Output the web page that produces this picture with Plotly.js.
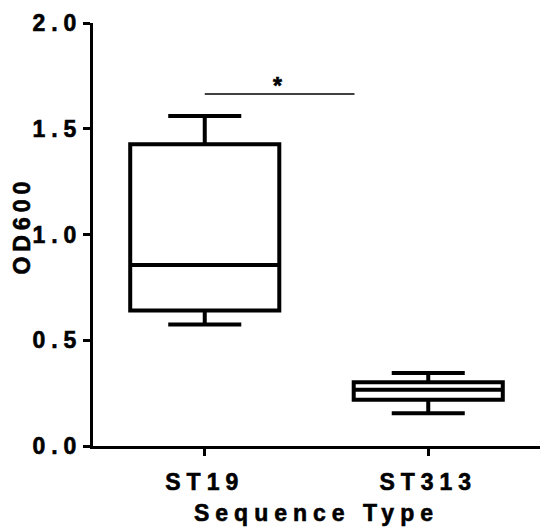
<!DOCTYPE html>
<html>
<head>
<meta charset="utf-8">
<script src="https://cdn.plot.ly/plotly-3.0.1.min.js"></script>
<style>
html,body{margin:0;padding:0;background:#fff;}
#chart{width:540px;height:527px;}
.main-svg text { font-weight: bold !important; stroke: #000; stroke-width: 0.6px; }
.xtick text, .ytick text, .g-xtitle text { letter-spacing: 6px; }
.annotation-text.ytitle-ann { letter-spacing: 5px; }
</style>
</head>
<body>
<div id="chart"></div>
<script>
// Data (OD600 box plot, min-to-max whiskers)
var categories = ['ST19', 'ST313'];
var lowerWhisker = [0.575, 0.155];
var q1Values     = [0.641, 0.219];
var medianValues = [0.856, 0.266];
var q3Values     = [1.427, 0.302];
var upperWhisker = [1.560, 0.345];

// Significance bracket between the groups (x in category index units)
var sigBracketX = [0, 0.67];
var sigBracketY = [1.664, 1.664];
var sigLabel = '*';

var yTickVals = [0, 0.5, 1.0, 1.5, 2.0];
var yTitle = 'OD600';
var xTitle = 'Sequence Type';

var fontFam = 'Liberation Sans, Arial, Helvetica, sans-serif';
var xRange = [-0.5, 1.5];

var traces = [
  {
    type: 'box',
    x: categories,
    q1: q1Values,
    median: medianValues,
    q3: q3Values,
    lowerfence: lowerWhisker,
    upperfence: upperWhisker,
    boxpoints: false,
    width: 0.667,
    whiskerwidth: 0.49,
    fillcolor: 'rgba(255,255,255,0)',
    line: {color: '#000', width: 4},
    hoverinfo: 'skip',
    showlegend: false
  },
  {
    type: 'scatter',
    mode: 'lines',
    xaxis: 'x2',
    yaxis: 'y',
    x: sigBracketX,
    y: sigBracketY,
    line: {color: '#000', width: 1.5},
    hoverinfo: 'skip',
    showlegend: false
  }
];

var tf = {family: fontFam, size: 23, color: '#000', weight: 'bold'};

var layout = {
  width: 540,
  height: 527,
  margin: {l: 93, r: 0, t: 23, b: 81},
  paper_bgcolor: '#fff',
  plot_bgcolor: '#fff',
  showlegend: false,
  font: tf,
  xaxis: {
    type: 'category',
    range: xRange,
    showgrid: false,
    zeroline: false,
    showline: true,
    linecolor: '#000',
    linewidth: 3,
    ticks: 'outside',
    ticklen: 7,
    tickwidth: 3,
    tickcolor: '#000',
    tickfont: tf,
    ticklabelstandoff: 6,
    title: {text: xTitle, font: tf, standoff: 12},
    fixedrange: true
  },
  xaxis2: {
    type: 'linear',
    overlaying: 'x',
    range: xRange,
    visible: false,
    fixedrange: true
  },
  yaxis: {
    range: [0, 2.0],
    tickvals: yTickVals,
    tickformat: '.1f',
    showgrid: false,
    zeroline: false,
    showline: true,
    linecolor: '#000',
    linewidth: 3,
    ticks: 'outside',
    ticklen: 7,
    tickwidth: 3,
    tickcolor: '#000',
    tickfont: tf,
    ticklabelstandoff: -4,
    fixedrange: true
  },
  annotations: [
    {
      x: (sigBracketX[0] + sigBracketX[1]) / 2 - 0.01,
      y: sigBracketY[0],
      xref: 'x2', yref: 'y',
      text: sigLabel,
      showarrow: false,
      yanchor: 'bottom',
      yshift: -7,
      font: tf
    },
    {
      x: -0.159,
      y: 0.522,
      xref: 'paper', yref: 'paper',
      text: yTitle,
      textangle: -90,
      showarrow: false,
      xanchor: 'center',
      yanchor: 'middle',
      font: tf
    }
  ]
};

Plotly.newPlot('chart', traces, layout, {displayModeBar: false, staticPlot: true}).then(function(){
  // widen the letter spacing of the y title annotation
  var anns = document.querySelectorAll('.annotation-text');
  anns.forEach(function(t){ if (t.textContent === yTitle) t.style.letterSpacing = '5px'; });
});
</script>
</body>
</html>
